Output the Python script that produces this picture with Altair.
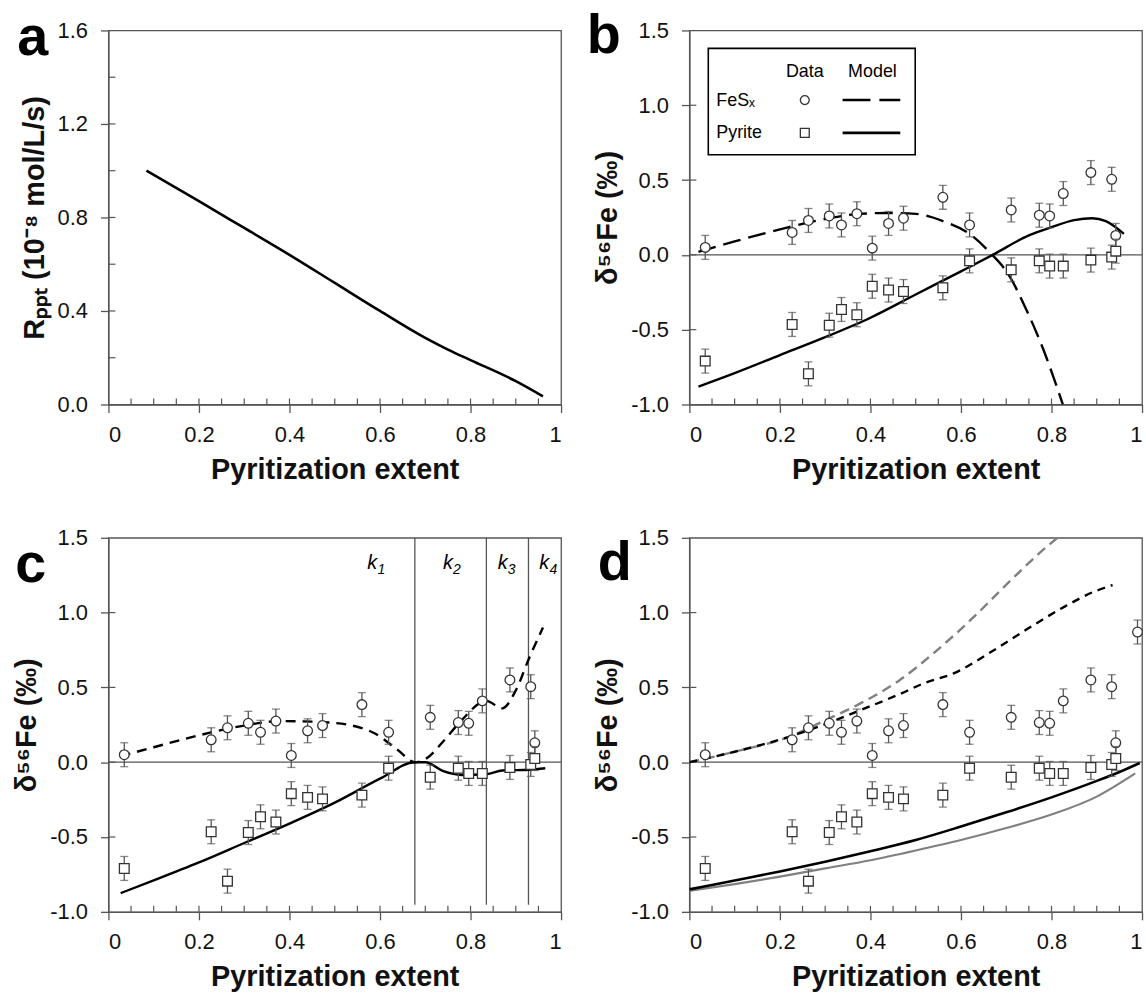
import altair as alt
import pandas as pd

FONT = "Liberation Sans"
W, H = 455, 376

# ---------------- data ----------------
x_pts = [0.035, 0.227, 0.263, 0.309, 0.336, 0.370, 0.404, 0.440, 0.473, 0.560,
         0.619, 0.711, 0.773, 0.796, 0.826, 0.887, 0.933, 0.942]
fes_pts = [0.05, 0.15, 0.23, 0.26, 0.20, 0.275, 0.045, 0.21, 0.245, 0.385,
           0.20, 0.30, 0.265, 0.26, 0.41, 0.55, 0.505, 0.13]
pyr_pts = [-0.71, -0.465, -0.795, -0.47, -0.365, -0.40, -0.21, -0.235, -0.245, -0.22,
           -0.04, -0.10, -0.04, -0.075, -0.075, -0.035, -0.015, 0.025]
err_pts = [0.08] * 18

# extra FeSx point only in panel d
d_extra_x = [0.99]
d_extra_y = [0.87]

# panel a: precipitation rate
a_x = [0.084, 0.2, 0.3, 0.4, 0.5, 0.6, 0.7, 0.75, 0.8, 0.9, 0.96]
a_y = [1.0, 0.87, 0.755, 0.64, 0.52, 0.40, 0.285, 0.235, 0.19, 0.10, 0.035]

# panel b models
bf_x = [0.02, 0.1, 0.2, 0.3, 0.38, 0.44, 0.5, 0.56, 0.62, 0.664, 0.704, 0.745, 0.785, 0.825]
bf_y = [0.02, 0.09, 0.17, 0.24, 0.275, 0.28, 0.274, 0.226, 0.138, 0.016, -0.127, -0.37, -0.656, -1.0]
bp_x = [0.02, 0.1, 0.2, 0.3, 0.4, 0.5, 0.6, 0.67, 0.75, 0.8, 0.85, 0.89, 0.92, 0.96]
bp_y = [-0.88, -0.79, -0.67, -0.55, -0.42, -0.265, -0.11, 0.0, 0.13, 0.185, 0.232, 0.245, 0.225, 0.14]

# panel c models
cf_x = [0.027, 0.1, 0.2, 0.3, 0.38, 0.46, 0.53, 0.59, 0.64, 0.677, 0.70, 0.74, 0.78, 0.835,
        0.87, 0.90, 0.93, 0.96]
cf_y = [0.04, 0.10, 0.18, 0.245, 0.275, 0.27, 0.25, 0.19, 0.08, 0.0, 0.02, 0.14, 0.28, 0.41,
        0.36, 0.48, 0.70, 0.90]
cp_x = [0.027, 0.1, 0.2, 0.3, 0.4, 0.5, 0.6, 0.677, 0.70, 0.74, 0.78, 0.835, 0.87, 0.93, 0.965]
cp_y = [-0.875, -0.79, -0.67, -0.54, -0.41, -0.27, -0.11, 0.0, 0.0, -0.06, -0.085, -0.08,
        -0.055, -0.05, -0.04]
k_bounds = [0.677, 0.835, 0.928]
k_lab_x = [0.583, 0.75, 0.871, 0.963]
k_lab_sub = ["1", "2", "3", "4"]
k_lab_y = 1.33

# panel d models
dgd_x = [0.0, 0.1, 0.22, 0.30, 0.382, 0.463, 0.545, 0.626, 0.707, 0.772, 0.813]
dgd_y = [0.0, 0.07, 0.17, 0.28, 0.40, 0.545, 0.743, 0.964, 1.207, 1.394, 1.5]
dkd_x = [0.0, 0.1, 0.22, 0.30, 0.382, 0.463, 0.52, 0.585, 0.667, 0.748, 0.829, 0.894, 0.935]
dkd_y = [0.0, 0.07, 0.17, 0.254, 0.353, 0.453, 0.53, 0.595, 0.738, 0.893, 1.04, 1.14, 1.184]
dks_x = [0.0, 0.1, 0.2, 0.3, 0.4, 0.5, 0.6, 0.7, 0.8, 0.9, 0.95, 0.995]
dks_y = [-0.85, -0.79, -0.73, -0.665, -0.595, -0.52, -0.43, -0.335, -0.235, -0.125, -0.065, -0.005]
dgs_x = [0.0, 0.1, 0.2, 0.3, 0.4, 0.5, 0.6, 0.7, 0.8, 0.9, 0.985]
dgs_y = [-0.86, -0.815, -0.765, -0.71, -0.655, -0.59, -0.52, -0.44, -0.35, -0.23, -0.075]

# axis ticks
x_major = [0, 0.2, 0.4, 0.6, 0.8, 1.0]
x_inner = [0.05, 0.1, 0.15, 0.2, 0.25, 0.3, 0.35, 0.4, 0.45, 0.5, 0.55, 0.6, 0.65,
           0.7, 0.75, 0.8, 0.85, 0.9, 0.95]
ya_major = [0, 0.4, 0.8, 1.2, 1.6]
ya_inner = [0.2, 0.4, 0.6, 0.8, 1.0, 1.2, 1.4]
yd_major = [-1.0, -0.5, 0, 0.5, 1.0, 1.5]
yd_inner = [-0.5, 0.0, 0.5, 1.0]

XTITLE = "Pyritization extent"
YTITLE_A = "R\u209a\u209a\u209c (10\u207b\u2078 mol/L/s)"
YTITLE_D = "\u03b4\u2075\u2076Fe (\u2030)"

# ---------------- helpers ----------------
xaxis = alt.Axis(values=x_major, title=XTITLE, labelPadding=12, titlePadding=10,
                 labelExpr="datum.value == 0 ? '0' : datum.value == 1 ? '1' : format(datum.value, '.1f')")
xscale = alt.Scale(domain=[0, 1], nice=False, zero=False)


def X(f):
    return alt.X(f + ":Q", scale=xscale, axis=xaxis)


def make_Y(domain, values, title):
    ax = alt.Axis(values=values, title=title, labelPadding=13, titlePadding=8,
                  labelExpr="replace(format(datum.value, '.1f'), '\u2212', '-')")
    sc = alt.Scale(domain=domain, nice=False, zero=False)

    def Y(f):
        return alt.Y(f + ":Q", scale=sc, axis=ax)
    return Y


dummy = pd.DataFrame({"d": [0]})


def line(xs, ys, Y, color="black", dash=None, width=2.4):
    df = pd.DataFrame({"x": xs, "y": ys})
    kw = dict(color=color, strokeWidth=width, interpolate="monotone", clip=True)
    if dash:
        kw["strokeDash"] = dash
    return alt.Chart(df).mark_line(**kw).encode(x=X("x"), y=Y("y"), order="x:Q")


def datapoints(xs, ys, errs, Y, shape):
    df = pd.DataFrame({"x": xs, "y": ys, "e": errs})
    df["lo"] = df["y"] - df["e"]
    df["hi"] = df["y"] + df["e"]
    base = alt.Chart(df)
    rule = base.mark_rule(color="#555", strokeWidth=1.3).encode(x=X("x"), y=Y("lo"), y2="hi")
    cap1 = base.mark_tick(orient="horizontal", size=8, thickness=1.3, color="#555").encode(x=X("x"), y=Y("lo"))
    cap2 = base.mark_tick(orient="horizontal", size=8, thickness=1.3, color="#555").encode(x=X("x"), y=Y("hi"))
    pts = base.mark_point(shape=shape, filled=True, color="white", stroke="#333",
                          strokeWidth=1.3, size=95, opacity=1).encode(x=X("x"), y=Y("y"))
    return [rule, cap1, cap2, pts]


def inner_x():
    df = pd.DataFrame({"v": x_inner})
    return alt.Chart(df).mark_rule(color="#555", strokeWidth=1.2).encode(
        x=X("v"), y=alt.value(H - 6), y2=alt.value(H))


def inner_y(values, Y):
    df = pd.DataFrame({"v": values})
    return alt.Chart(df).mark_rule(color="#555", strokeWidth=1.2).encode(
        y=Y("v"), x=alt.value(0), x2=alt.value(7))


def zero_line(Y):
    df = pd.DataFrame({"y": [0.0]})
    return alt.Chart(df).mark_rule(color="#555", strokeWidth=1.2).encode(y=Y("y"))


def letter(t, dx, dy):
    return alt.Chart(dummy).mark_text(text=t, font=FONT, fontSize=56, fontWeight="bold",
                                      align="center", baseline="alphabetic", color="black").encode(
        x=alt.value(dx), y=alt.value(dy))


# ---------------- panel a ----------------
Ya = make_Y([0, 1.6], ya_major, YTITLE_A)
panel_a = alt.layer(
    inner_y(ya_inner, Ya),
    inner_x(),
    line(a_x, a_y, Ya, width=2.6),
    letter("a", -76, 25),
).properties(width=W, height=H)

# ---------------- panel b ----------------
Yb = make_Y([-1.0, 1.5], yd_major, YTITLE_D)
legend_layers = [
    alt.Chart(dummy).mark_rect(fill="white", stroke="black", strokeWidth=1.6).encode(
        x=alt.value(19), x2=alt.value(227), y=alt.value(18), y2=alt.value(125)),
    alt.Chart(dummy).mark_text(text="Data", font=FONT, fontSize=18, align="center", baseline="middle").encode(
        x=alt.value(116), y=alt.value(42)),
    alt.Chart(dummy).mark_text(text="Model", font=FONT, fontSize=18, align="center", baseline="middle").encode(
        x=alt.value(184), y=alt.value(42)),
    alt.Chart(dummy).mark_text(text="FeS\u2093", font=FONT, fontSize=18, align="left", baseline="middle").encode(
        x=alt.value(27), y=alt.value(71)),
    alt.Chart(dummy).mark_text(text="Pyrite", font=FONT, fontSize=18, align="left", baseline="middle").encode(
        x=alt.value(27), y=alt.value(103)),
    alt.Chart(dummy).mark_point(shape="circle", filled=False, color="#333", strokeWidth=1.3, size=80, opacity=1).encode(
        x=alt.value(116), y=alt.value(70)),
    alt.Chart(dummy).mark_point(shape="square", filled=False, color="#333", strokeWidth=1.3, size=80, opacity=1).encode(
        x=alt.value(116), y=alt.value(103)),
    alt.Chart(dummy).mark_rule(color="black", strokeWidth=2.6, strokeDash=[28, 9]).encode(
        x=alt.value(154), x2=alt.value(212), y=alt.value(70)),
    alt.Chart(dummy).mark_rule(color="black", strokeWidth=2.6).encode(
        x=alt.value(154), x2=alt.value(212), y=alt.value(103)),
]
panel_b = alt.layer(
    inner_x(),
    inner_y(yd_inner, Yb),
    zero_line(Yb),
    line(bf_x, bf_y, Yb, dash=[18, 8]),
    line(bp_x, bp_y, Yb),
    *datapoints(x_pts, fes_pts, err_pts, Yb, "circle"),
    *datapoints(x_pts, pyr_pts, err_pts, Yb, "square"),
    *legend_layers,
    letter("b", -86, 23),
).properties(width=W, height=H)

# ---------------- panel c ----------------
Yc = make_Y([-1.0, 1.5], yd_major, YTITLE_D)
kb_df = pd.DataFrame({"v": k_bounds})
kl_df = pd.DataFrame({"x": k_lab_x, "y": [k_lab_y] * 4, "s": k_lab_sub})
panel_c = alt.layer(
    inner_x(),
    inner_y(yd_inner, Yc),
    zero_line(Yc),
    alt.Chart(kb_df).mark_rule(color="#555", strokeWidth=1.3).encode(
        x=X("v"), y=alt.value(0), y2=alt.value(H - 7)),
    alt.Chart(kl_df).mark_text(text="k", font=FONT, fontSize=20, fontStyle="italic",
                               align="center", baseline="middle").encode(x=X("x"), y=Yc("y")),
    alt.Chart(kl_df).mark_text(font=FONT, fontSize=14, fontStyle="italic", dx=9, dy=7,
                               align="center", baseline="middle").encode(x=X("x"), y=Yc("y"), text="s:N"),
    line(cf_x, cf_y, Yc, dash=[10, 7]),
    line(cp_x, cp_y, Yc),
    *datapoints(x_pts, fes_pts, err_pts, Yc, "circle"),
    *datapoints(x_pts, pyr_pts, err_pts, Yc, "square"),
    letter("c", -78, 44),
).properties(width=W, height=H)

# ---------------- panel d ----------------
Yd = make_Y([-1.0, 1.5], yd_major, YTITLE_D)
panel_d = alt.layer(
    inner_x(),
    inner_y(yd_inner, Yd),
    zero_line(Yd),
    line(dgd_x, dgd_y, Yd, color="#808080", dash=[10, 6]),
    line(dkd_x, dkd_y, Yd, dash=[8, 6]),
    line(dgs_x, dgs_y, Yd, color="#808080", width=2.2),
    line(dks_x, dks_y, Yd, width=2.6),
    *datapoints(x_pts + d_extra_x, fes_pts + d_extra_y, err_pts + [0.08], Yd, "circle"),
    *datapoints(x_pts, pyr_pts, err_pts, Yd, "square"),
    letter("d", -75, 42),
).properties(width=W, height=H)

chart = alt.concat(
    panel_a, panel_b, panel_c, panel_d, columns=2,
    spacing={"row": 134, "column": 129}, bounds="flush"
).properties(
    padding={"left": 12, "top": 5, "right": 0, "bottom": 0}
).configure_view(
    stroke="#555", strokeWidth=1.3
).configure_axis(
    labelFont=FONT, labelFontSize=22, labelColor="#111",
    titleFont=FONT, titleFontSize=29, titleFontWeight="bold", titleColor="#111",
    tickColor="#555", domainColor="#555", tickSize=8, tickWidth=1.3, domainWidth=1.3,
    grid=False,
).configure_text(font=FONT)

chart.save("out.html", embed_options={"renderer": "svg", "actions": False})
